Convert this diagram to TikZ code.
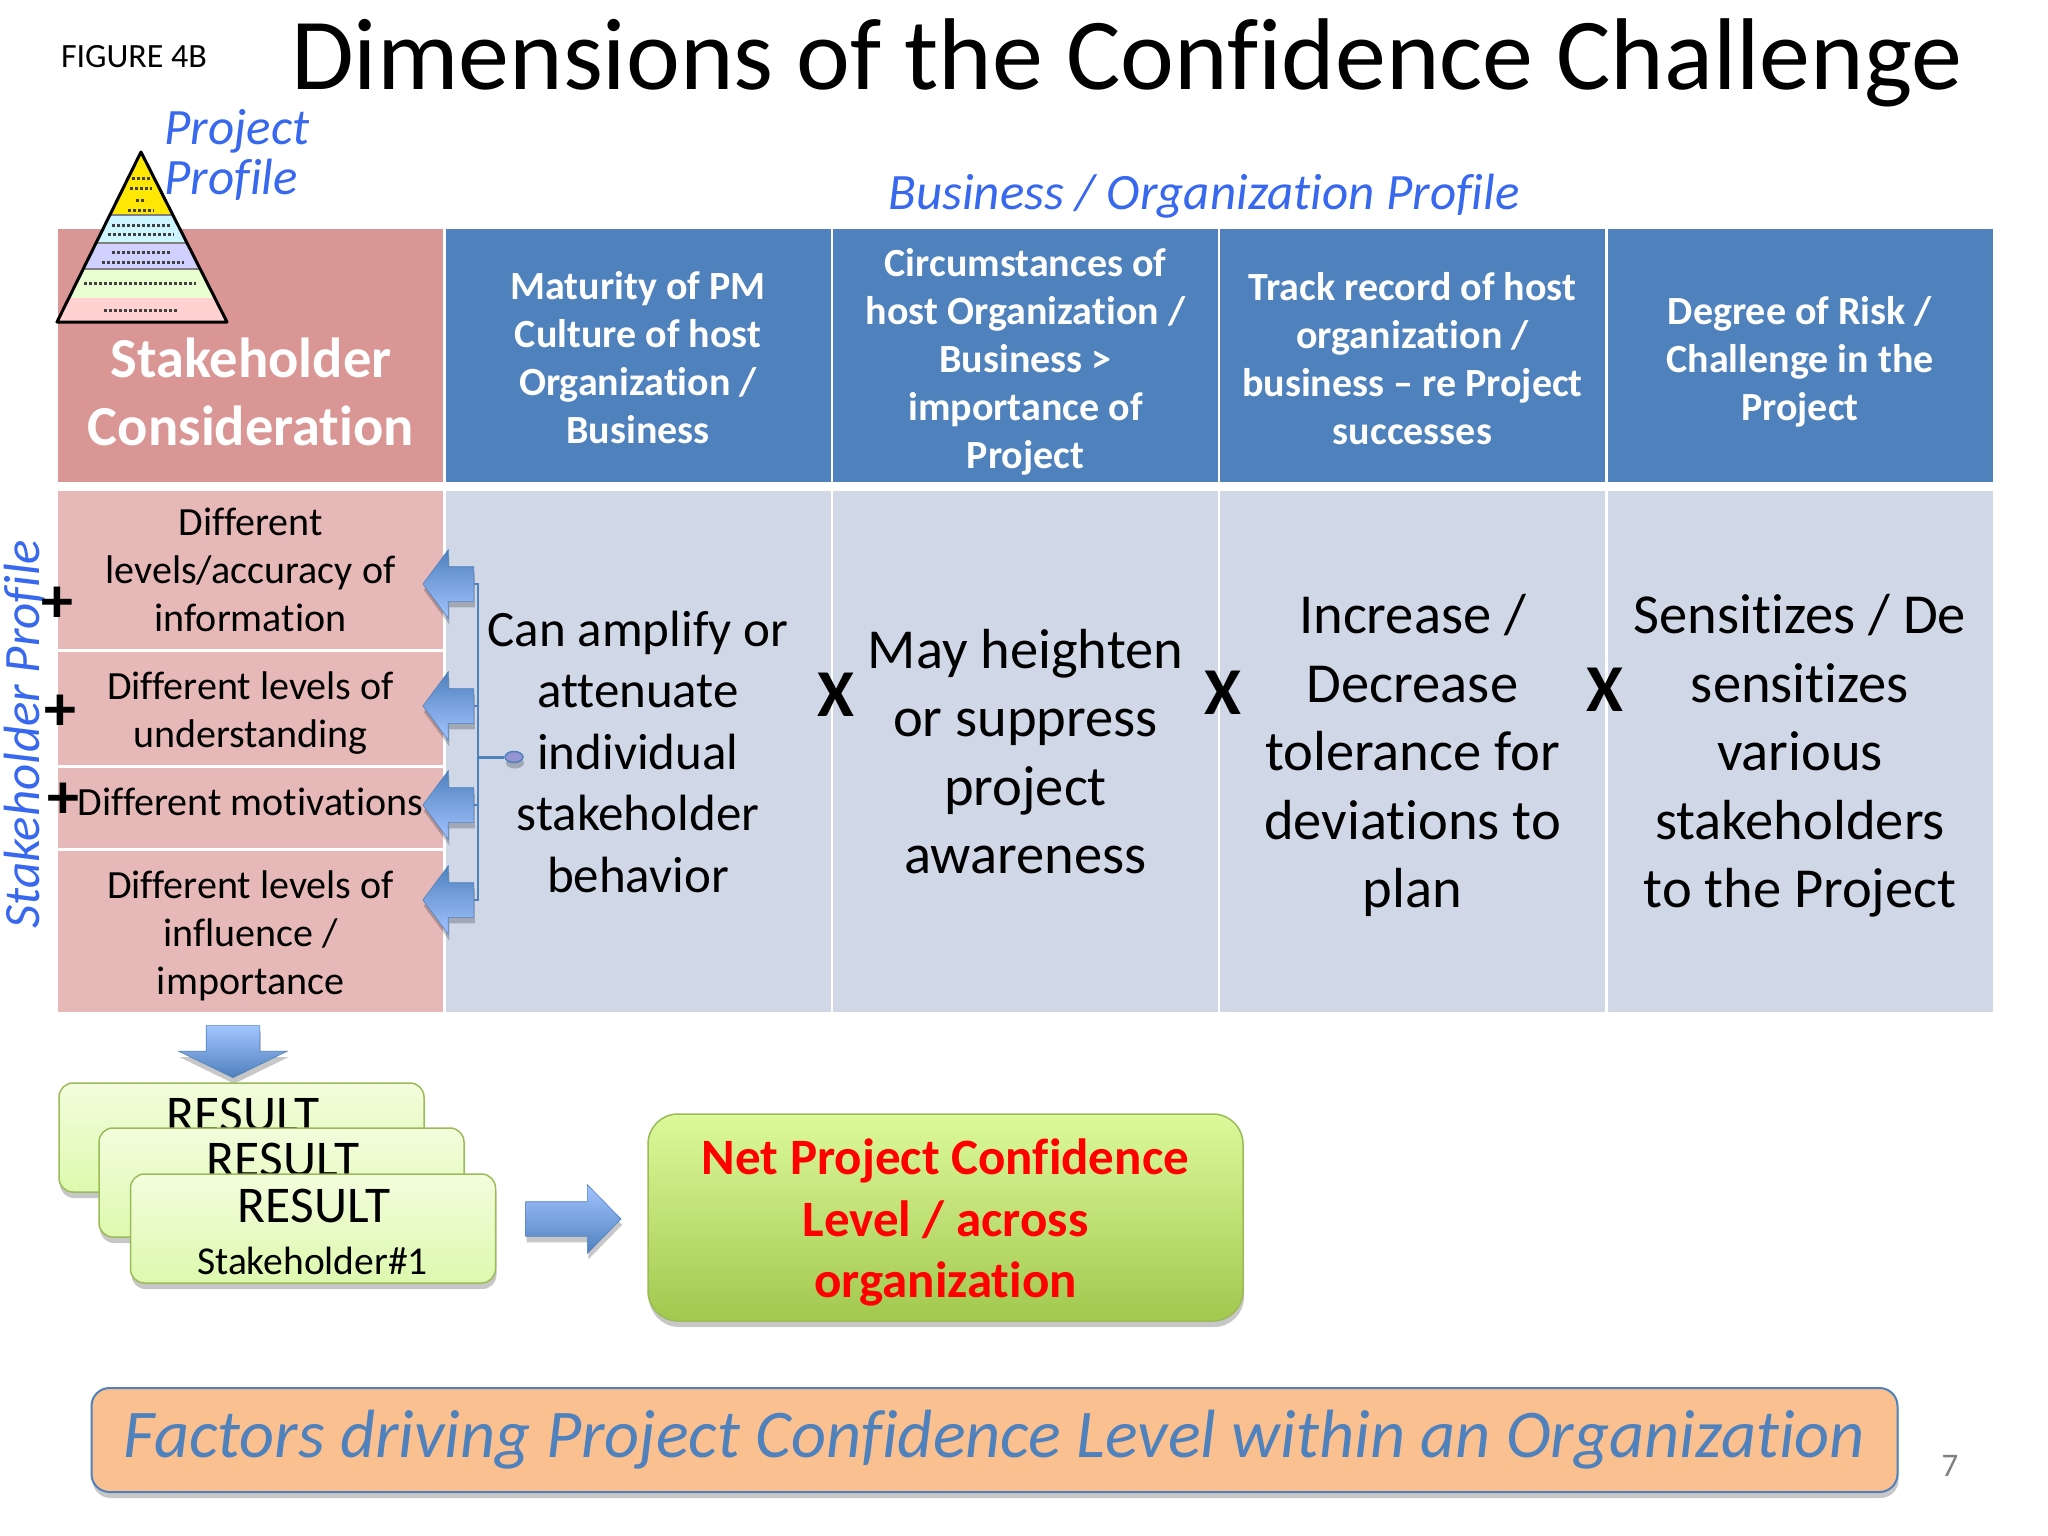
\documentclass[tikz,border=0pt]{standalone}
\usepackage{fontspec}
\setmainfont[Ligatures=NoCommon]{Carlito}
\usetikzlibrary{shapes.arrows,shapes.geometric,shadows}
\definecolor{headblue}{HTML}{4F81BD}
\definecolor{headpink}{HTML}{D99694}
\definecolor{rowpink}{HTML}{E6B8B7}
\definecolor{bodyblue}{HTML}{D0D8E8}
\definecolor{labelblue}{HTML}{3768EE}
\definecolor{boxgreen}{HTML}{9BBB59}
\definecolor{arrowlight}{HTML}{A3C4FF}
\definecolor{limetop}{HTML}{F3FDDD}
\definecolor{limelow}{HTML}{DDF9AE}
\definecolor{nettop}{HTML}{DDF99B}
\definecolor{netlow}{HTML}{A2C84E}
\definecolor{peach}{HTML}{FBC08F}
\newcommand{\padtop}[1]{\rule{0pt}{#1pt}}
\tikzset{
  cell/.style={minimum width=#1,inner sep=0pt,align=center},
  headcell/.style={cell=385pt,fill=headblue,minimum height=253pt,text=white,font=\bfseries\fontsize{40}{48}\selectfont},
  bodycell/.style={cell=385pt,fill=bodyblue,minimum height=521pt},
  rowcell/.style={cell=385pt,fill=rowpink,font=\fontsize{40}{48}\selectfont},
  blueitalic/.style={text=labelblue,inner sep=0pt,align=left,font=\itshape\fontsize{51}{50}\selectfont},
  signmark/.style={inner sep=0pt,font=\bfseries\fontsize{#1}{#1}\selectfont},
  softshadow/.style={drop shadow={shadow xshift=1pt,shadow yshift=-6pt,fill=black,opacity=.22}},
  blockarrow/.style={single arrow,single arrow head extend=17pt,inner xsep=0pt,inner ysep=17pt,minimum width=68pt,draw=headblue,line width=.6pt,softshadow},
  resultbox/.style={draw=boxgreen,line width=1.5pt,rounded corners=14pt,top color=limetop,bottom color=limelow,minimum width=365pt,minimum height=109pt,softshadow},
}
\begin{document}
\begin{tikzpicture}[x=1pt,y=-1pt]
    \useasboundingbox (0,0) rectangle (2048,1536);
    \node[font=\fontsize{34}{40}\selectfont] (fig) at (134,57) {FIGURE 4B};
    \node[font=\fontsize{102}{120}\selectfont] (title) at (1127,63) {Dimensions of the Confidence Challenge};
    \node[blueitalic] (biz) at (1204,196) {Business / Organization Profile};
    \node[cell=385pt,fill=headpink,minimum height=253pt] (sc) at (250.5,355.5) {};
    \begin{scope}
      \clip (141,152) -- (227,322) -- (57,322) -- cycle;
      \fill[yellow!90!orange] (50,150) rectangle (235,215);
      \fill[blue!20!cyan!20!white] (50,215) rectangle (235,243);
      \fill[blue!18] (50,243) rectangle (235,269);
      \fill[green!45!yellow!18] (50,269) rectangle (235,298);
      \fill[red!18] (50,298) rectangle (235,322);
      \draw[gray,line width=2pt] (50,215) -- (235,215) (50,243) -- (235,243) (50,269) -- (235,269);
      \foreach \ya/\xa/\xb in {178/132/150,188/130/152,200/136/146,210/128/154,225/112/170,234/108/174,252/112/170,262/102/184,283/84/196,310/104/178}
        \draw[black!75,line width=3pt,dash pattern=on 3pt off 2pt] (\xa,\ya) -- (\xb,\ya);
    \end{scope}
    \draw[line width=3pt,line join=round] (141,152) -- (227,322) -- (57,322) -- cycle;
    \node[blueitalic] (pp) at (237,155) {Project\\Profile};
    \node[text=white,align=center,font=\bfseries\fontsize{56.5}{68}\selectfont] (sctext) at (251,392) {Stakeholder\\Consideration};
    \node[headcell] (ha) at (638,355.5) {\padtop{33}Maturity of PM\\Culture of host\\Organization /\\Business};
    \node[headcell] (hb) at (1025.5,355.5) {\padtop{40}Circumstances of\\host Organization /\\Business >\\importance of\\Project};
    \node[headcell] (hc) at (1412.5,355.5) {\padtop{34}Track record of host\\organization /\\business -- re Project\\successes};
    \node[headcell] (hd) at (1800,355.5) {\padtop{40}Degree of Risk /\\Challenge in the\\Project};
    \node[rowcell,minimum height=158pt] (ra) at (250.5,570) {Different\\levels/accuracy of\\information};
    \node[rowcell,minimum height=113pt] (rb) at (250.5,708.5) {\padtop{37}Different levels of\\understanding};
    \node[rowcell,minimum height=80pt] (rc) at (250.5,808) {Different motivations\rule[-13pt]{0pt}{1pt}};
    \node[rowcell,minimum height=161pt] (rd) at (250.5,931.5) {\padtop{37}Different levels of\\influence /\\importance};
    \node[bodycell,font=\fontsize{51}{61.5}\selectfont] (ba) at (638,751.5) {Can amplify or\\attenuate\\individual\\stakeholder\\behavior};
    \node[bodycell,font=\fontsize{56.5}{68.5}\selectfont] (bb) at (1025.5,751.5) {May heighten\\or suppress\\project\\awareness};
    \node[bodycell,font=\fontsize{56.5}{68.5}\selectfont] (bc) at (1412.5,751.5) {\padtop{48}Increase /\\Decrease\\tolerance for\\deviations to\\plan};
    \node[bodycell,font=\fontsize{56.5}{68.5}\selectfont] (bd) at (1800,751.5) {\padtop{48}Sensitizes / De\\sensitizes\\various\\stakeholders\\to the Project};
    \node[blueitalic,rotate=90] (sp) at (25,734) {Stakeholder Profile};
    \node[signmark=64] (pa) at (57,605) {+};
    \node[signmark=64] (pb) at (60,713) {+};
    \node[signmark=64] (pc) at (63,801) {+};
    \node[signmark=67] (xa) at (836,695) {X};
    \node[signmark=67] (xb) at (1223,693) {X};
    \node[signmark=67] (xc) at (1605,690) {X};
    \foreach \name/\ya in {aa/584,ab/706,ac/805,ad/900}
      \node[blockarrow,shape border rotate=180,single arrow tip angle=107,minimum height=51pt,anchor=tip,top color=headblue,bottom color=arrowlight] (\name) at (422.5,\ya) {};
    \coordinate (bus) at (478,757);
    \node[ellipse,draw=headblue,fill=gray!60!blue!60,line width=1.5pt,minimum width=18pt,minimum height=11pt,inner sep=0pt,softshadow] (dot) at (514,757) {};
    \draw[headblue,line width=2.5pt] (aa.tail) -| (bus);
    \draw[headblue,line width=2.5pt] (ab.tail) -| (bus);
    \draw[headblue,line width=2.5pt] (ac.tail) -| (bus);
    \draw[headblue,line width=2.5pt] (ad.tail) -| (bus);
    \draw[headblue,line width=3pt] (bus) -- (dot);
    \node[blockarrow,shape border rotate=270,inner xsep=26.5pt,inner ysep=0pt,minimum width=108pt,single arrow head extend=27.5pt,single arrow tip angle=128,minimum height=52pt,anchor=tip,top color=arrowlight,bottom color=headblue] (down) at (233,1078) {};
    \node[resultbox] (rz) at (241.5,1137.5) {};
    \node[font=\fontsize{51.5}{50}\selectfont] (rzt) at (243,1115) {RESULT};
    \node[resultbox] (ry) at (281.5,1182.5) {};
    \node[font=\fontsize{51.5}{50}\selectfont] (ryt) at (283,1160) {RESULT};
    \node[resultbox] (rx) at (313,1228.5) {};
    \node[font=\fontsize{51.5}{50}\selectfont] (rxt) at (314,1206) {RESULT};
    \node[font=\fontsize{39.5}{40}\selectfont] (rxs) at (312.5,1261) {Stakeholder\#1};
    \node[blockarrow,minimum height=95.5pt,single arrow tip angle=91,anchor=tip,top color=arrowlight,bottom color=headblue] (right) at (621.5,1219) {};
    \node[draw=boxgreen,line width=1.5pt,rounded corners=30pt,top color=nettop,bottom color=netlow,minimum width=595pt,minimum height=207pt,align=center,text=red,font=\bfseries\fontsize{51}{61.5}\selectfont,softshadow] (net) at (945.5,1217.5) {\padtop{46}Net Project Confidence\\Level / across\\organization};
    \node[draw=headblue,line width=2pt,fill=peach,rounded corners=18pt,minimum width=1806pt,minimum height=104pt,text=headblue,font=\itshape\fontsize{68.3}{70}\selectfont,softshadow] (drive) at (994.5,1440) {Factors driving Project Confidence Level within an Organization};
    \node[text=gray,font=\fontsize{33}{36}\selectfont] (pg) at (1950,1466) {7};
\end{tikzpicture}
\end{document}
